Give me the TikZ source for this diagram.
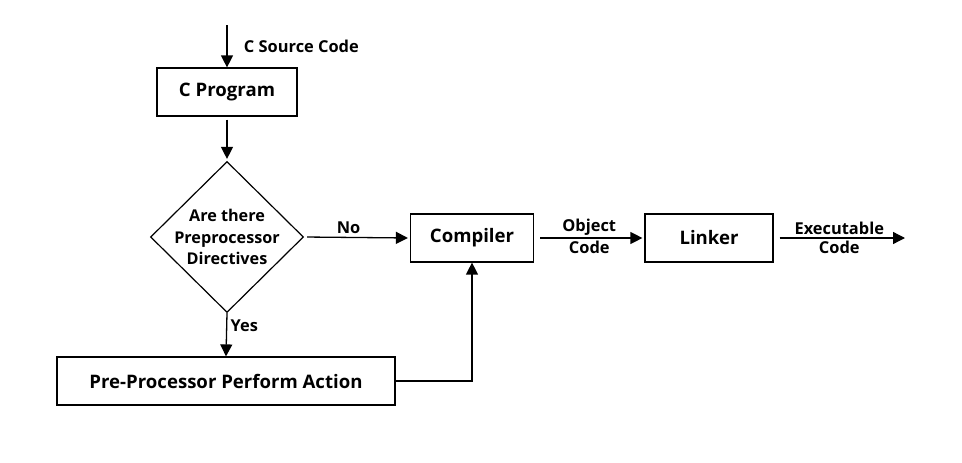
\documentclass[tikz,border=0pt]{standalone}
\usepackage{fontspec}
\setmainfont{Open Sans}
\usetikzlibrary{arrows.meta,shapes.geometric}

\tikzset{
  procbox/.style={draw, line width=1.2pt, minimum height=48pt, inner sep=0pt,
    font=\bfseries\fontsize{18.6}{22}\selectfont},
  decision/.style={draw, diamond, aspect=1, line width=1.2pt, inner sep=-3pt,
    minimum width=153pt, minimum height=151pt, align=center,
    font=\bfseries\fontsize{16.2}{21.5}\selectfont},
  lbl/.style={font=\bfseries\fontsize{16.4}{19}\selectfont},
  flow/.style={line width=1.3pt, -{Triangle[length=12pt,width=12pt]}}
}

\begin{document}
\begin{tikzpicture}[x=1pt, y=-1pt]
    \useasboundingbox (0,0) rectangle (962,463);

    % boxes
    \node[procbox, minimum width=140pt] (prog) at (227,92) {C Program};
    \node[decision] (dir) at (227,237) {Are there\\Preprocessor\\Directives};
    \node[procbox, minimum width=338pt] (pre) at (226,381) {Pre-Processor Perform Action};
    \node[procbox, minimum width=123pt] (comp) at (472,238) {Compiler};
    \node[procbox, minimum width=128pt] (link) at (709,238) {Linker};

    % free ends
    \coordinate (src) at (227,25);
    \coordinate (out) at (905,238);

    % arrows
    \draw[flow] (src) -- node[lbl, right=13pt] {C Source Code} (prog.north);
    \draw[flow, shorten <=3pt, shorten >=2pt] (prog.south) -- (dir.north);
    \draw[flow, shorten <=3pt, shorten >=2pt] (dir.east) -- node[lbl, above, pos=0.42] {No} (comp.west);
    \draw[flow] (dir.south) -- node[lbl, right, pos=0.3] {Yes} (pre.north);
    \draw[flow] (pre.east) -| (comp.south);
    \draw[flow, shorten <=6pt, shorten >=2pt] (comp.east) -- node[lbl, above, yshift=-1pt] {Object} node[lbl, below, yshift=1pt] {Code} (link.west);
    \draw[flow, shorten <=6pt] (link.east) -- node[lbl, above, yshift=-1pt] {Executable} node[lbl, below, yshift=1pt] {Code} (out);
\end{tikzpicture}
\end{document}
